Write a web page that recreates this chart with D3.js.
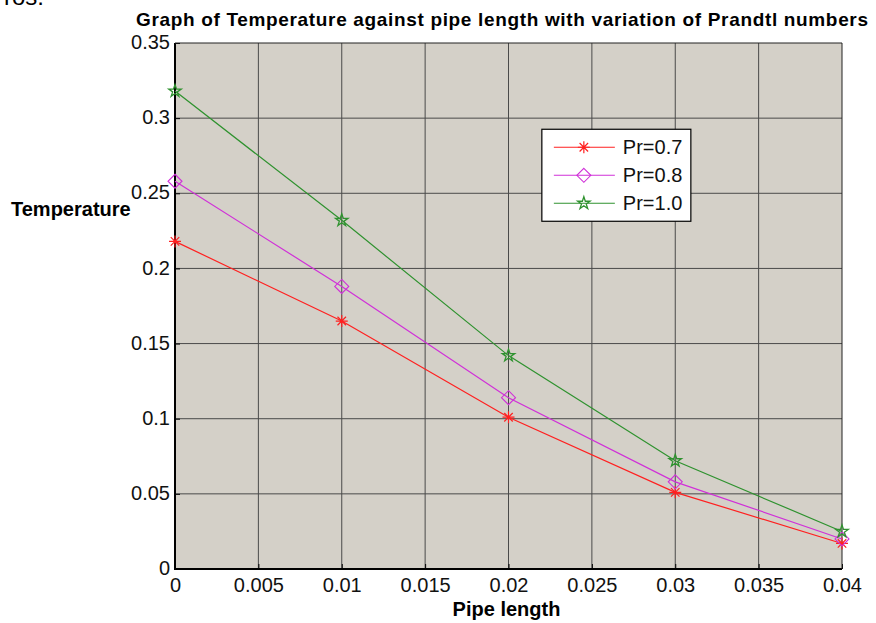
<!DOCTYPE html>
<html lang="en">
<head>
  <meta charset="UTF-8">
  <title>Temperature against pipe length</title>
  <script src="https://d3js.org/d3.v7.min.js"></script>
  <style>
    body { margin: 0; background: #fff; }
    svg { display: block; font-family: "Liberation Sans", Arial, sans-serif; }
    .tick-label { font-size: 20px; fill: #111; }
    .title { font-size: 19px; font-weight: bold; }
    .axis-label { font-size: 20px; font-weight: bold; }
  </style>
</head>
<body>
<div id="chart"></div>
<script>
  // data
  const pipeLength = [0, 0.01, 0.02, 0.03, 0.04];
  const pr07 = [0.218, 0.165, 0.101, 0.051, 0.017];
  const pr08 = [0.258, 0.188, 0.114, 0.058, 0.020];
  const pr10 = [0.318, 0.232, 0.142, 0.072, 0.025];
  const seriesNames = ["Pr=0.7", "Pr=0.8", "Pr=1.0"];
  const xTicks = [0, 0.005, 0.01, 0.015, 0.02, 0.025, 0.03, 0.035, 0.04];
  const yTicks = [0, 0.05, 0.1, 0.15, 0.2, 0.25, 0.3, 0.35];

  const W = 876, H = 623;
  const margin = {top: 43, right: 34, bottom: 54, left: 175},
        width = W - margin.left - margin.right,
        height = H - margin.top - margin.bottom;

  const root = d3.select("#chart").append("svg")
      .attr("width", W).attr("height", H);

  // cut-off text from the page above the figure
  root.append("text").attr("x", 4).attr("y", 5)
      .style("font-size", "24px").text("ros:");

  const svg = root.append("g")
      .attr("transform", `translate(${margin.left},${margin.top})`);

  const x = d3.scaleLinear().domain([0, 0.04]).range([0, width]);
  const y = d3.scaleLinear().domain([0, 0.35]).range([height, 0]);

  svg.append("rect").attr("width", width).attr("height", height).attr("fill", "#d4d0c8");

  // grid
  svg.append("g").selectAll("line").data(xTicks.slice(1, -1)).enter().append("line")
     .attr("x1", d => x(d)).attr("x2", d => x(d)).attr("y1", 0).attr("y2", height)
     .attr("stroke", "#4a4a4a").attr("stroke-width", 1);
  svg.append("g").selectAll("line").data(yTicks.slice(1, -1)).enter().append("line")
     .attr("y1", d => y(d)).attr("y2", d => y(d)).attr("x1", 0).attr("x2", width)
     .attr("stroke", "#4a4a4a").attr("stroke-width", 1);

  // axes (ticks inward)
  const xAxis = svg.append("g").attr("transform", `translate(0,${height})`)
     .call(d3.axisBottom(x).tickValues(xTicks).tickSize(-5).tickPadding(9)
       .tickFormat(d => d3.format("")(+d.toFixed(3))));
  const yAxis = svg.append("g")
     .call(d3.axisLeft(y).tickValues(yTicks).tickSize(-5).tickPadding(5)
       .tickFormat(d => d3.format("")(+d.toFixed(2))));
  [xAxis, yAxis].forEach(a => {
    a.select(".domain").remove();
    a.selectAll(".tick line").attr("stroke", "#000");
    a.selectAll("text").attr("class", "tick-label").attr("font-size", null).attr("font-family", null);
  });
  xAxis.selectAll("text").attr("dy", "0.71em");
  yAxis.selectAll("text").attr("dy", "0.28em");

  // frame
  svg.append("path")
     .attr("d", `M0,0V${height}H${width}`)
     .attr("fill", "none").attr("stroke", "#000").attr("stroke-width", 2);
  svg.append("path")
     .attr("d", `M0,0H${width}V${height}`)
     .attr("fill", "none").attr("stroke", "#222").attr("stroke-width", 1);

  const colors = ["#ff2020", "#d030d8", "#2f922f"];
  const series = [pr07, pr08, pr10];

  const star = d3.symbol().type(d3.symbolStar).size(48)();
  function marker(g, i) {
    if (i === 0) {
      const p = d3.path();
      for (let k = 0; k < 4; k++) {
        const a = k * Math.PI / 4;
        p.moveTo(-6 * Math.cos(a), -6 * Math.sin(a));
        p.lineTo(6 * Math.cos(a), 6 * Math.sin(a));
      }
      g.append("path").attr("d", p.toString()).attr("stroke", colors[i]).attr("stroke-width", 1.2).attr("fill", "none");
    } else if (i === 1) {
      g.append("path").attr("d", "M0,-7L7,0L0,7L-7,0Z").attr("stroke", colors[i]).attr("stroke-width", 1.1).attr("fill", "none");
    } else {
      g.append("path").attr("d", star).attr("stroke", colors[i]).attr("stroke-width", 1.3).attr("fill", "none");
    }
  }

  const line = d3.line().x((d, j) => x(pipeLength[j])).y(d => y(d));

  series.forEach((vals, i) => {
    svg.append("path").datum(vals)
       .attr("fill", "none").attr("stroke", colors[i]).attr("stroke-width", 1.2)
       .attr("d", line);
    vals.forEach((v, j) => {
      const g = svg.append("g").attr("transform", `translate(${x(pipeLength[j])},${y(v)})`);
      marker(g, i);
    });
  });

  // legend
  const lg = svg.append("g").attr("transform", `translate(${x(0.0220)},${y(0.2926)})`);
  lg.append("rect").attr("width", 149).attr("height", 92)
    .attr("fill", "#fff").attr("stroke", "#000").attr("stroke-width", 1.2);
  seriesNames.forEach((name, i) => {
    const row = lg.append("g").attr("transform", `translate(0,${18 + i * 28})`);
    row.append("line").attr("x1", 12).attr("x2", 73).attr("stroke", colors[i]).attr("stroke-width", 1.2);
    marker(row.append("g").attr("transform", "translate(42,0)"), i);
    row.append("text").attr("x", 81).attr("dy", "0.36em").attr("class", "tick-label").text(name);
  });

  // title and axis labels
  root.append("text").attr("class", "title")
      .attr("x", 136).attr("y", 26)
      .attr("textLength", 732).attr("lengthAdjust", "spacing")
      .text("Graph of Temperature against pipe length with variation of Prandtl numbers");
  root.append("text").attr("class", "axis-label")
      .attr("x", margin.left + width / 2 - 2).attr("y", 616).attr("text-anchor", "middle")
      .text("Pipe length");
  root.append("text").attr("class", "axis-label")
      .attr("x", 11).attr("y", 216)
      .text("Temperature");
</script>
</body>
</html>
